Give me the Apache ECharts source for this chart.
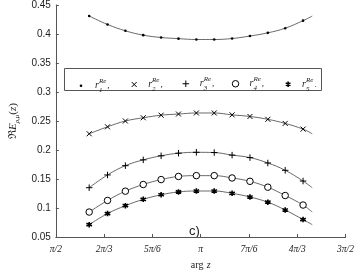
<!DOCTYPE html>
<html>
<head>
<meta charset="utf-8">
<script src="https://cdn.jsdelivr.net/npm/echarts@6/dist/echarts.min.js"></script>
<style>html,body{margin:0;padding:0;background:#fff}#c{width:357px;height:276px}</style>
</head>
<body>
<div id="c"></div>
<script>
// x in units of pi/6 (3 = pi/2, 6 = pi, 9 = 3pi/2)
const argPos = [3.69, 4.07, 4.44, 4.81, 5.18, 5.54, 5.91, 6.28, 6.65, 7.02, 7.39, 7.75, 8.12, 8.31];
const r1 = [0.431, 0.4165, 0.4055, 0.398, 0.394, 0.392, 0.3905, 0.3905, 0.3922, 0.3965, 0.402, 0.410, 0.423, 0.431];
const r2 = [0.228, 0.240, 0.250, 0.2556, 0.260, 0.262, 0.2638, 0.2638, 0.2606, 0.2578, 0.2529, 0.2458, 0.236, 0.228];
const r3 = [0.135, 0.157, 0.173, 0.183, 0.190, 0.1945, 0.196, 0.1956, 0.1912, 0.1869, 0.1776, 0.165, 0.1465, 0.135];
const r4 = [0.093, 0.113, 0.129, 0.1405, 0.149, 0.1544, 0.1558, 0.1558, 0.1518, 0.146, 0.1359, 0.1215, 0.1051, 0.093];
const r5 = [0.0713, 0.0904, 0.104, 0.1149, 0.1228, 0.1277, 0.1293, 0.1293, 0.1253, 0.119, 0.110, 0.0966, 0.0801, 0.0713];
const xTickLabels = {3: 'π/2', 4: '2π/3', 5: '5π/6', 6: 'π', 7: '7π/6', 8: '4π/3', 9: '3π/2'};
const seriesNames = ['r1', 'r2', 'r3', 'r4', 'r5'];
const subDigits = ['1', '2', '3', '4', '5'];

const symbols = [
  {symbol: 'circle', size: 2.6, style: {color: '#000'}},
  {symbol: 'path://M0,0L10,10M10,0L0,10', size: 5, style: {color: 'none', borderColor: '#000', borderWidth: 1}},
  {symbol: 'path://M5,0L5,10M0,5L10,5', size: 6.5, style: {color: 'none', borderColor: '#000', borderWidth: 1}},
  {symbol: 'circle', size: 6.5, style: {color: '#fff', borderColor: '#000', borderWidth: 1}},
  {symbol: 'path://M5,0L5,10M0.7,2.5L9.3,7.5M0.7,7.5L9.3,2.5', size: 5.5, style: {color: 'none', borderColor: '#000', borderWidth: 1.6}}
];
const allVals = [r1, r2, r3, r4, r5];

const series = allVals.map((vals, i) => ({
  name: seriesNames[i],
  type: 'line',
  smooth: 0.4,
  symbol: symbols[i].symbol,
  symbolSize: symbols[i].size,
  showAllSymbol: true,
  itemStyle: symbols[i].style,
  lineStyle: {color: '#444', width: 0.8},
  emphasis: {disabled: true},
  z: 2,
  data: vals.map((v, j) => j === vals.length - 1 ? {value: [argPos[j], v], symbol: 'none'} : [argPos[j], v])
}));

const legendCenters = [81, 131.7, 183.3, 235, 286];
const legendCY = 79;
const legends = seriesNames.map((n, i) => {
  const sz = symbols[i].size;
  return {
    left: legendCenters[i] - sz / 2,
    top: legendCY - sz / 2,
    padding: 0,
    itemWidth: sz,
    itemHeight: sz,
    selectedMode: false,
    data: [{name: n, icon: symbols[i].symbol, itemStyle: Object.assign({}, symbols[i].style)}],
    formatter: () => '{r|r}{b|' + subDigits[i] + '}{s|Re}{c|' + (i === 4 ? '.' : ',') + '}',
    textStyle: {
      color: '#222',
      rich: {
        r: {fontFamily: 'Liberation Serif', fontStyle: 'italic', fontSize: 10, padding: [0, 0, 0, Math.max(0, 14 - sz / 2 - 5)], lineHeight: 16, verticalAlign: 'middle'},
        b: {fontFamily: 'Liberation Serif', fontStyle: 'italic', fontSize: 7, width: 0, lineHeight: 16, verticalAlign: 'bottom'},
        s: {fontFamily: 'Liberation Serif', fontStyle: 'italic', fontSize: 7, lineHeight: 16, verticalAlign: 'top'},
        c: {fontFamily: 'Liberation Serif', fontSize: 9, lineHeight: 16, verticalAlign: 'middle', padding: [0, 0, 0, 1]}
      }
    }
  };
});

const chart = echarts.init(document.getElementById('c'), null, {renderer: 'canvas'});
chart.setOption({
  animation: false,
  backgroundColor: '#fff',
  grid: {left: 38, right: 10, top: 3.5, bottom: 28, containLabel: false},
  legend: legends,
  xAxis: {
    type: 'value', min: 3, max: 9, interval: 1,
    name: '{n|arg} {z|z}', nameLocation: 'middle', nameGap: 22,
    nameTextStyle: {rich: {n: {fontFamily: 'Liberation Serif', fontSize: 10, color: '#222'}, z: {fontFamily: 'Liberation Serif', fontStyle: 'italic', fontSize: 10, color: '#222'}}},
    axisLine: {onZero: false, lineStyle: {color: '#555', width: 1}},
    axisTick: {inside: true, length: 3, lineStyle: {color: '#555'}},
    splitLine: {show: false},
    axisLabel: {formatter: v => xTickLabels[Math.round(v)] || '', fontSize: 9.5, color: '#222', margin: 7, fontFamily: 'Liberation Serif', fontStyle: 'italic'}
  },
  yAxis: {
    type: 'value', min: 0.05, max: 0.45, interval: 0.05,
    name: '{a|ℜ}{e|E}{s|ρ,μ}{a|(}{e|z}{a|)}', nameLocation: 'middle', nameGap: 28, nameRotate: 90,
    nameTextStyle: {rich: {
      a: {fontFamily: 'Liberation Serif', fontSize: 11, color: '#222'},
      e: {fontFamily: 'Liberation Serif', fontStyle: 'italic', fontSize: 11, color: '#222'},
      s: {fontFamily: 'Liberation Serif', fontStyle: 'italic', fontSize: 7, color: '#222', verticalAlign: 'bottom', lineHeight: 14}
    }},
    axisLine: {show: true, lineStyle: {color: '#555', width: 1}},
    axisTick: {show: true, inside: true, length: 3, lineStyle: {color: '#555'}},
    splitLine: {show: false},
    axisLabel: {fontSize: 10, color: '#222', margin: 5, fontFamily: 'Liberation Sans', formatter: v => String(+v.toFixed(2))}
  },
  graphic: [
    {type: 'rect', shape: {x: 64.5, y: 68.5, width: 257, height: 22}, style: {fill: '#fff', stroke: '#555', lineWidth: 1}, z: 0, silent: true},
    {type: 'text', left: 189, top: 225, style: {text: 'c)', fontSize: 13, fontFamily: 'Liberation Sans', fill: '#222'}, silent: true}
  ],
  series: series
});
</script>
</body>
</html>
